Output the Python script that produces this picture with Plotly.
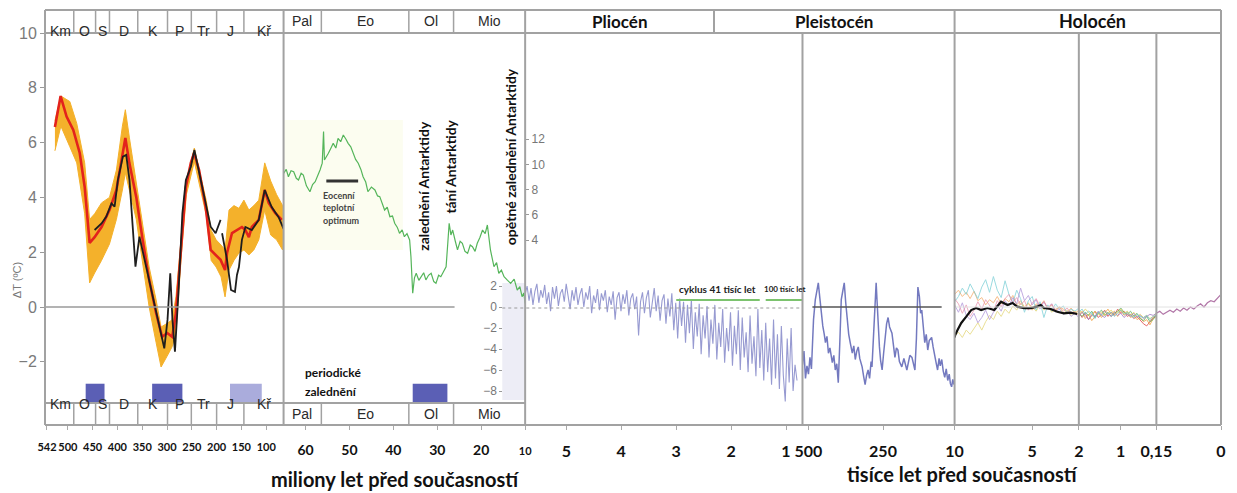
import numpy as np
import plotly.graph_objects as go

# ---------------- DATA ----------------
# Panel 1 – Phanerozoic (millions of years)
p1_periods = [542, 488, 444, 416, 359, 299, 251, 200, 145, 65]
p1_period_labels = ["Km", "O", "S", "D", "K", "P", "Tr", "J", "Kř"]
p1_ticks = [542, 500, 450, 400, 350, 300, 250, 200, 150, 100]

red_t = [526, 514.5, 502.5, 489, 476, 466, 456, 446, 432, 416, 402, 392, 384, 376, 362, 350, 336, 322, 310, 299.5,
         289.5, 282, 272, 262, 252, 245.4, 235.4, 222, 212, 202, 192, 183, 179, 169, 159, 149, 142, 135, 129, 115,
         103, 95, 82, 68.5]
red_v = [6.57, 7.70, 6.95, 6.46, 5.62, 4.38, 2.34, 2.55, 2.92, 3.54, 4.27, 5.26, 6.17, 5.26, 4.01, 2.55, 0.99, -0.22,
         -1.09, -0.95, -1.09, -0.22, 2.19, 4.38, 5.26, 5.62, 5.0, 3.65, 2.08, 1.90, 1.72, 1.35, 1.97, 2.70, 2.81, 2.92,
         2.81, 2.55, 2.92, 3.18, 4.27, 3.80, 3.43, 3.18]

black_t = [446, 432, 422.4, 412, 405.7, 399, 389, 382.3, 375.7, 369, 363.6, 355.6, 342, 329, 315.6, 305.5, 299, 293.5,
           289, 284, 277, 269, 262, 252, 244.8, 235.4, 222, 212, 202, 192, None, 189, 179, 171, 163, 159, 155, 149,
           142, 129, 115, 103, 89, 75, 65]
black_v = [2.81, 3.05, 3.3, 3.78, 3.66, 4.64, 5.49, 5.55, 4.64, 2.81, 1.47, 2.57, 1.47, 0.38, -0.6, -1.51, -0.47, 1.23,
           -0.47, -1.63, 0.5, 3.42, 4.64, 5.12, 5.73, 4.88, 3.78, 2.93, 2.69, 3.18, None, 2.69, 1.72, 0.62, 0.55, 1.17,
           1.46, 2.45, 2.92, 2.81, 3.18, 4.27, 3.65, 3.28, 2.85]

band_t = [526, 514, 496, 482, 466, 456, 446, 432, 416, 402, 390, 384, 376, 362, 350, 336, 322, 312, 300, 290,
          282, 271, 261, 245, 221, 211, 201, 191, 183, 175, 165, 155, 145, 135, 125, 115, 103, 91, 79, 67]
band_hi = [6.8, 7.7, 7.5, 6.7, 5.26, 3.2, 3.4, 3.8, 4.0, 5.0, 6.6, 7.2, 6.2, 4.6, 3.2, 1.46, 0.26, -0.73, -0.6, -0.47,
           0.37, 2.45, 4.6, 5.8, 3.9, 2.8, 2.45, 2.26, 2.08, 3.54, 3.7, 3.6, 3.9, 3.54, 3.7, 3.9, 5.26, 4.6, 4.1, 3.7]
band_lo = [5.7, 6.6, 5.85, 5.26, 3.4, 0.88, 1.24, 1.7, 2.3, 3.2, 4.27, 4.9, 4.27, 3.2, 1.7, 0.0, -1.3, -2.19, -1.8,
           -1.46, -0.95, 1.9, 4.1, 5.3, 3.36, 1.7, 1.46, 1.1, 0.37, 1.35, 1.7, 1.97, 2.08, 1.9, 2.08, 2.45, 3.54, 2.63,
           2.45, 2.08]

glaciations_p1 = [(464, 426, "#5b5fb5"), (330, 269, "#5b5fb5"), (173, 109, "#aaacdc")]
glaciation_p2 = (35.6, 27.7)

# Panel 2 – Cenozoic (millions of years), deep-ocean temperature
p2_labels = ["Pal", "Eo", "Ol", "Mio"]
p2_ticks = [60, 50, 40, 30, 20, 10]
green_t = [65, 64.4, 63.9, 63.3, 62.7, 62.1, 61.6, 61.0, 60.5, 59.8, 59.0, 58.4, 57.8, 57.2, 56.7, 56.2, 55.9, 55.7,
           55.2, 54.8, 54.2, 53.7, 53.1, 52.6, 52.0, 51.4, 50.8, 50.3, 49.7, 49.2, 48.6, 48.0, 47.4, 46.9, 46.3, 45.8,
           45.0, 44.2, 43.6, 43.1, 42.5, 42.0, 41.4, 40.8, 40.2, 39.7, 39.1, 38.6, 38.0, 37.5, 36.9, 36.3, 36.0, 35.6,
           35.2, 34.8, 34.2, 33.7, 33.1, 32.6, 32.0, 31.4, 30.8, 30.3, 29.7, 29.2, 28.6, 28.0, 27.6, 27.3, 26.9, 26.5,
           25.9, 25.4, 24.8, 24.3, 23.7, 23.1, 22.5, 22.0, 21.4, 20.9, 20.3, 19.7, 19.1, 18.6, 17.9, 17.5, 17.1, 16.5,
           16.0, 15.4, 14.8, 14.0, 13.3, 12.5, 11.8, 11.2, 10.7, 10.3, 10.0]
green_v = [9.29, 9.6, 9.02, 9.5, 9.42, 8.9, 8.76, 9.3, 9.16, 8.3, 7.83, 8.4, 8.63, 9.1, 9.56, 10.1, 12.6, 10.35,
           10.6, 10.88, 11.3, 11.67, 11.3, 12.07, 11.8, 12.33, 12.0, 11.67, 11.4, 11.0, 10.4, 10.09, 9.6, 9.02, 8.6, 7.83,
           8.2, 7.97, 7.5, 7.44, 6.9, 6.38, 6.6, 5.85, 5.9, 5.33, 5.0, 4.53, 4.8, 4.26, 4.5, 4.0, 2.67, -0.23,
           1.0, 1.36, 0.8, 1.09, 1.4, 0.83, 1.2, 1.36, 0.7, 0.56, 1.2, 1.09, 1.5, 1.88, 3.8, 5.33, 4.4, 4.79,
           3.9, 3.21, 3.9, 3.74, 3.1, 2.94, 3.6, 3.47, 3.1, 3.74, 4.2, 4.79, 4.5, 5.19, 3.21, 2.5, 1.88, 2.2,
           1.36, 1.6, 1.09, 0.8, 0.56, 0.9, 0.03, 0.3, -0.5, -0.2, -1.03]

# Panel 3 – Pliocene / early Pleistocene (millions of years)
p3_ticks = [5, 4, 3, 2, 1]
plio_start, plio_end = 5.75, 0.7
plio_v = [1.2, 2.0, 0.6, 1.8, 0.2, 1.5, 2.2, 0.4, 1.6, 0.9,
          2.1, 0.3, 1.4, -0.4, 1.9, 0.8, 2.0, 0.1, 1.3, 1.7,
          0.5, 2.2, 1.0, -0.2, 1.6, 0.6, 1.9, 0.2, 1.2, 1.8,
          0.0, 1.4, 0.7, 2.0, -0.6, 1.1, 0.4, 1.7, -0.3, 1.3,
          0.6, 1.6, -0.5, 1.0, 0.2, 1.5, -1.2, 0.9, 1.4, -0.4,
          1.2, 0.3, 1.6, -0.8, 0.8, 1.3, -0.2, 1.0, -2.7, 0.5,
          1.4, -0.6, 0.9, 1.6, -1.0, 0.7, 1.8, -0.4, 1.1, -1.3,
          0.6, 1.2, -1.6, 0.8, -0.9, 1.3, -2.2, 0.4, -3.0, 0.8,
          -1.8, 0.5, -3.4, 0.2, -2.5, 0.7, -4.0, -0.5, -2.8, 0.3,
          -4.5, -0.8, -3.0, 0.1, -4.8, -1.2, -3.5, 0.2, -5.0, -1.5,
          -3.8, -0.2, -5.3, -2.0, -4.2, -0.5, -5.6, -1.8, -4.5, -0.3,
          -6.0, -1.0, -4.8, -2.4, -6.2, -0.8, -5.4, -2.8, -6.6, -0.2,
          -5.8, -2.2, -7.0, -1.5, -6.2, -3.0, -7.4, -1.2, -6.8, -2.6,
          -7.8, -1.8, -6.5, -9.0, -3.0, -7.2, -2.0, -8.0, -5.5, -7.0]

# Panel 4 – late Pleistocene (thousands of years): (age, value)
p4_ticks = [500, 250]
pleist_points = [
    (520, -5.5), (515, -4.2), (510, -6.8), (505, -5.6), (500, -6.4), (495, -4.8), (490, -5.9), (487, -3.1),
    (483, -1.2), (477, 0.7), (472, 1.4), (467, 2.3), (462, 0.9), (457, -0.6), (452, -1.8), (447, -2.6),
    (443, -3.4), (438, -2.8), (433, -4.4), (428, -3.9), (423, -5.0), (420, -5.3), (415, -4.6), (410, -6.0),
    (405, -5.4), (400, -7.2), (395, -3.5), (390, 0.7), (385, 1.5), (380, 2.3), (375, 0.4), (370, -1.2),
    (365, -2.6), (360, -3.4), (353, -4.4), (348, -3.7), (343, -5.0), (338, -4.2), (333, -3.8), (328, -4.9),
    (320, -5.7), (315, -6.6), (310, -7.4), (305, -6.5), (300, -6.0), (295, -6.8), (290, -5.2), (287, -5.7),
    (282, -3.0), (277, 0.5), (273, 2.3), (270, 0.6), (267, -1.5), (262, -3.8), (258, -5.1), (253, -6.0),
    (248, -4.4), (243, -2.9), (238, -1.6), (233, -1.0), (228, -1.9), (220, -2.5), (215, -3.6), (210, -4.8),
    (205, -3.9), (200, -4.1), (195, -5.2), (187, -5.7), (180, -4.9), (170, -6.0), (165, -5.3), (160, -4.6),
    (153, -4.8), (148, -5.6), (143, -6.0), (138, -3.0), (133, 1.9), (128, 1.0), (124, -0.6), (120, -0.3),
    (115, -1.8), (110, -3.4), (105, -2.6), (100, -4.1), (95, -3.2), (87, -2.9), (82, -3.8), (77, -4.4),
    (72, -5.3), (67, -6.0), (62, -4.9), (58, -5.6), (53, -5.0), (48, -6.1), (43, -6.7), (38, -5.9),
    (33, -7.0), (28, -6.4), (24, -7.3), (20, -7.6), (16, -6.9), (12, -7.4)]

# Panel 5 – Holocene 10–2 kyr
p5_ticks = [10, 5, 2]
holo_black_t = [10.0, 9.96, 9.81, 9.57, 9.25, 8.93, 8.61, 8.29, 7.89, 7.44, 7.01, 6.59, 6.27, 5.97, 5.52, 5.09, 4.69,
                4.45, 4.24, 3.81, 3.39, 2.96, 2.53, 2.11]
holo_black_v = [-2.9, -2.67, -2.19, -1.52, -0.92, -0.29, -0.1, -0.29, -0.1, -0.29, 0.5, 0.19, 0.38, 0.03, -0.1, -0.1,
                0.03, 0.19, -0.1, -0.19, -0.45, -0.6, -0.54, -0.67]
holo_series = {
    "#f3a35a": [1.2, 1.6, 1.0, 1.4, 0.8, 1.5, 0.6, 0.9, 0.2, 0.7, 0.4, 1.0, 0.3, 0.8, 0.5, 1.1, 0.2, 0.6, 0.0, 0.4,
                -0.3, 0.3, 0.1, 0.6, -0.2, 0.2, -0.4, 0.0, -0.2, -0.5, -0.1, -0.6, -0.3],
    "#6fcbd3": [0.5, 1.0, 1.8, 1.2, 2.2, 1.5, 0.8, 1.9, 2.6, 1.4, 2.9, 1.6, 0.9, 2.5, 1.2, 0.4, 1.6, 0.8, -0.5, 0.6,
                1.0, -0.3, 0.5, -1.0, 0.2, -0.4, 0.3, -0.2, 0.1, -0.6, -0.2, -0.4, -0.1],
    "#e2d36a": [-2.8, -2.4, -2.9, -2.2, -2.6, -2.0, -1.5, -2.2, -1.4, -0.8, -1.2, -0.4, -0.9, -0.2, -0.6, 0.1, -0.3,
                0.4, -0.1, 0.3, 0.0, -0.4, 0.2, -0.3, 0.1, -0.5, -0.2, 0.0, -0.6, -0.3, -0.8, -0.4, -0.7],
    "#a88bd6": [0.2, -0.5, 0.4, -0.8, -1.2, -0.6, -1.5, -1.0, -0.3, -1.2, -0.5, 0.2, -0.4, 0.6, 0.1, 0.9, 0.3, 1.8,
                0.6, 1.1, 0.2, 0.7, -0.2, 0.5, -0.1, 0.3, -0.5, -0.2, -0.7, -0.4, -0.9, -0.6, -1.0],
    "#e88aa6": [0.8, 0.3, -0.6, 0.2, -0.9, -0.3, 0.5, -0.2, 0.7, 0.1, -0.4, 0.6, 0.0, 0.8, 1.2, 0.4, 0.9, 0.2, 0.6,
                -0.3, 0.4, 0.8, 0.1, 0.5, -0.2, 0.3, -0.3, 0.0, -0.4, -0.1, -0.6, -0.5, -0.8],
}

# Panel 6 – 2–0.15 kyr
p6_ticks = [1]
recent_series = {
    "#e04848": [-0.5, -1.0, -0.6, -1.2, -0.8, -0.4, -1.0, -0.7, -0.3, -0.9, -0.5, -0.8, -0.2, -0.6, -0.4, -0.9, -0.7,
                -1.1, -0.9, -1.3, -1.6, -1.8, -1.4, -1.0, -0.8],
    "#f0a040": [-0.8, -0.4, -1.1, -0.7, -1.3, -0.9, -0.5, -1.0, -0.6, -0.2, -0.7, -0.4, -0.9, -0.3, -0.8, -0.5, -1.0,
                -0.8, -1.2, -1.0, -1.4, -1.2, -1.7, -1.1, -0.9],
    "#5cae5c": [-0.6, -0.9, -0.5, -0.8, -0.4, -1.0, -0.6, -0.3, -0.8, -0.5, -0.9, -0.6, -0.4, -0.1, -0.5, -0.7, -0.4,
                -0.9, -0.6, -1.1, -1.3, -0.9, -1.4, -1.2, -0.7],
    "#e3cf55": [-0.3, -0.6, -0.2, -0.5, -0.9, -0.4, -0.7, -0.5, -0.8, -0.6, -0.3, -0.7, -0.5, -0.2, -0.6, -0.4, -0.8,
                -0.5, -0.9, -0.7, -1.0, -0.8, -1.1, -0.9, -0.6],
    "#a07cc8": [-0.9, -0.5, -0.8, -1.2, -0.7, -0.9, -0.4, -0.8, -1.0, -0.6, -0.9, -0.5, -0.8, -0.6, -1.0, -0.7, -0.9,
                -0.6, -1.0, -0.8, -1.1, -0.9, -0.7, -0.8, -0.6],
    "#73c7cf": [-0.5, -0.2, -0.7, -0.4, -0.6, -1.1, -0.5, -0.8, -0.4, -0.7, -0.5, -0.9, -0.6, -0.3, -0.7, -0.5, -0.8,
                -1.0, -0.7, -0.9, -1.0, -0.8, -1.2, -0.9, -0.8],
}

# Panel 7 – last 150 years
p7_ticks = [0.15, 0]
p7_ticktext = ["0,15", "0"]
modern_v = [-0.6, -0.4, -0.7, -0.5, -0.3, -0.5, -0.2, -0.4, -0.1, -0.3, 0.0, -0.2, 0.1, 0.3, 0.0, 0.4, 0.6, 0.5, 0.9,
            1.2]

# ---------------- LAYOUT HELPERS ----------------
W, H = 1237, 493
ML, MR, MT, MB = 45, 9, 10, 68
PW, PH = W - ML - MR, H - MT - MB


def px(x):
    return (x - ML) / PW


def py(y):
    return (H - MB - y) / PH


GRAY = "#a2a2a2"

fig = go.Figure()

# Panel 1 traces
fig.add_trace(go.Scatter(x=band_t + band_t[::-1], y=band_hi + band_lo[::-1], fill="toself",
                         fillcolor="#f4b12b", line=dict(color="#f4b12b", width=1), mode="lines",
                         xaxis="x", yaxis="y", hoverinfo="skip"))
fig.add_trace(go.Scatter(x=red_t, y=red_v, mode="lines", line=dict(color="#e3231c", width=2.6),
                         xaxis="x", yaxis="y"))
fig.add_trace(go.Scatter(x=black_t, y=black_v, mode="lines", line=dict(color="#1e1e1e", width=1.8),
                         xaxis="x", yaxis="y", connectgaps=False))
# Panel 2
fig.add_trace(go.Scatter(x=green_t, y=green_v, mode="lines", line=dict(color="#55b55a", width=1.2),
                         xaxis="x2", yaxis="y3"))
# Panel 3
plio_t = np.linspace(plio_start, 0.8, len(plio_v))
fig.add_trace(go.Scatter(x=plio_t, y=plio_v, mode="lines", line=dict(color="rgba(95,100,185,0.65)", width=1.1),
                         xaxis="x3", yaxis="y2"))
# Panel 4
pleist_t = [p[0] for p in pleist_points]
pleist_v = [p[1] for p in pleist_points]
fig.add_trace(go.Scatter(x=pleist_t, y=pleist_v, mode="lines", line=dict(color="rgba(80,88,175,0.8)", width=1.5),
                         xaxis="x4", yaxis="y2"))
# Panel 5
holo_t = np.linspace(10, 2, 33)
for c, vals in holo_series.items():
    fig.add_trace(go.Scatter(x=holo_t, y=vals, mode="lines", line=dict(color=c, width=1), opacity=0.7,
                             xaxis="x5", yaxis="y2"))
fig.add_trace(go.Scatter(x=holo_black_t, y=holo_black_v, mode="lines", line=dict(color="#111", width=2.2),
                         xaxis="x5", yaxis="y2"))
# Panel 6
rec_t = np.linspace(2, 0.15, 25)
for c, vals in recent_series.items():
    fig.add_trace(go.Scatter(x=rec_t, y=vals, mode="lines", line=dict(color=c, width=1), opacity=0.8,
                             xaxis="x6", yaxis="y2"))
# Panel 7
mod_t = np.linspace(0.15, 0, len(modern_v))
fig.add_trace(go.Scatter(x=mod_t, y=modern_v, mode="lines", line=dict(color="#b277a8", width=1.2),
                         xaxis="x7", yaxis="y2"))

shapes = []
annos = []


def line(x0, y0, x1, y1, color=GRAY, width=2, dash=None):
    shapes.append(dict(type="line", xref="paper", yref="paper", x0=px(x0), x1=px(x1), y0=py(y0), y1=py(y1),
                       line=dict(color=color, width=width, dash=dash), layer="above"))


def rect(x0, y0, x1, y1, fill, layer="below"):
    shapes.append(dict(type="rect", xref="paper", yref="paper", x0=px(x0), x1=px(x1), y0=py(y0), y1=py(y1),
                       fillcolor=fill, line=dict(width=0), layer=layer))


def text(x, y, s, size=12, color="#111", bold=False, family="Lato", angle=0, xanchor="center"):
    annos.append(dict(xref="paper", yref="paper", x=px(x), y=py(y), text=s, showarrow=False, textangle=angle,
                      xanchor=xanchor, yanchor="middle",
                      font=dict(size=size, color=color, family=family, weight="bold" if bold else "normal")))


# background decorations
rect(285, 120, 405, 250, "#fcfdf0")
rect(505, 283, 528, 400, "#ededf6")

# glaciation boxes (data coordinates)
for t0, t1, col in glaciations_p1:
    shapes.append(dict(type="rect", xref="x", yref="y", x0=t0, x1=t1, y0=-3.5, y1=-2.8, fillcolor=col,
                       line=dict(width=0)))
shapes.append(dict(type="rect", xref="x2", yref="y", x0=glaciation_p2[0], x1=glaciation_p2[1], y0=-3.5, y1=-2.8,
                   fillcolor="#5b5fb5", line=dict(width=0)))

# zero lines
line(45, 307, 457, 307, color="#9a9a9a", width=1.5)
line(505, 308, 807, 308, color="#9a9a9a", width=1.2, dash="dot")
line(817, 307, 947, 307, color="#555", width=1.6)
line(960, 307, 1228, 307, color="#e2e2e2", width=1)

# green cycle bars
line(680, 300, 764, 300, color="#7cc36e", width=2)
line(770, 300, 807, 300, color="#7cc36e", width=2)
text(722, 289, "cyklus 41 tisíc let", size=10, bold=True, color="#222")
text(789, 289, "100 tisíc let", size=8, bold=True, color="#222")

# Eocene optimum bar
line(328, 181, 360, 181, color="#333", width=3)
text(323, 195, "Eocenní", size=9, bold=True, color="#444", xanchor="left")
text(323, 207, "teplotní", size=9, bold=True, color="#444", xanchor="left")
text(323, 220, "optimum", size=9, bold=True, color="#444", xanchor="left")

text(425, 186, "zalednění Antarktidy", size=14, bold=True, angle=-90)
text(452, 167, "tání Antarktidy", size=14, bold=True, angle=-90)
text(513, 157, "opětné zalednění Antarktidy", size=14, bold=True, angle=-90)
text(305, 372, "periodické", size=12, bold=True, xanchor="left")
text(305, 391, "zalednění", size=12, bold=True, xanchor="left")

# frame
line(45, 10, 1228, 10)
line(45, 425, 1228, 425)
line(45, 10, 45, 425)
line(1228, 10, 1228, 425)
line(45, 33, 1228, 33)
line(45, 403, 528, 403)
for x in [285, 528, 960]:
    line(x, 10, x, 425)
for x in [807, 1085, 1163]:
    line(x, 33, x, 425)
line(718, 10, 718, 33)

# Panel 1 header / footer in data coordinates
for b in p1_periods[1:-1]:
    for (y0, y1) in [(10, 33), (403, 425)]:
        shapes.append(dict(type="line", xref="x", yref="paper", x0=b, x1=b, y0=py(y0), y1=py(y1),
                           line=dict(color=GRAY, width=1.5)))
for i, lab in enumerate(p1_period_labels):
    mid = (p1_periods[i] + p1_periods[i + 1]) / 2
    for yy in [21.5, 414]:
        annos.append(dict(xref="x", yref="paper", x=mid, y=py(yy), text=lab, showarrow=False,
                          font=dict(size=14, color="#2a2a2a", family="Liberation Sans")))

# Panel 2 header / footer
p2_edges = [285, 323, 411, 456, 528]
for b in p2_edges[1:-1]:
    line(b, 10, b, 33, width=1.5)
    line(b, 403, b, 425, width=1.5)
for i, lab in enumerate(p2_labels):
    mid = (p2_edges[i] + p2_edges[i + 1]) / 2
    text(mid, 21.5, lab, size=14, color="#2a2a2a", family="Liberation Sans")
    text(mid, 414, lab, size=14, color="#2a2a2a", family="Liberation Sans")

text(623, 21.5, "Pliocén", size=17, bold=True, family="Lato")
text(839, 21.5, "Pleistocén", size=17, bold=True, family="Lato")
text(1099, 21.5, "Holocén", size=18, bold=True, family="Lato")

# axis titles
text(17, 280, "ΔT (ºC)", size=11, color="#777", family="Liberation Sans", angle=-90)
text(397, 479, "miliony let před současností", size=20, bold=True, family="Lato")
text(968, 474, "tisíce let před současností", size=20, bold=True, family="Lato")

tickfont_small = dict(family="Lato", size=11, color="#111", weight="bold")
tickfont_big = dict(family="Lato", size=16, color="#111", weight="bold")
common_x = dict(showgrid=False, zeroline=False, showline=False, ticks="outside", ticklen=4, tickcolor="#aaa",
                anchor="y", fixedrange=True, ticklabelstandoff=8, tickangle=0)

layout = dict(
    width=W, height=H, margin=dict(l=ML, r=MR, t=MT, b=MB),
    paper_bgcolor="white", plot_bgcolor="white", showlegend=False,
    xaxis=dict(domain=[0, px(285)], range=[546, 65], tickvals=p1_ticks, tickfont=tickfont_small, **common_x),
    xaxis2=dict(domain=[px(285), px(528)], range=[65, 10], tickvals=p2_ticks,
                ticktext=[str(v) for v in p2_ticks[:-1]] + ["<span style='font-size:11px'>10</span>"],
                tickfont=dict(family="Lato", size=14, color="#111", weight="bold"), **common_x),
    xaxis3=dict(domain=[px(528), px(807)], range=[plio_start, plio_end], tickvals=p3_ticks, tickfont=tickfont_big,
                **common_x),
    xaxis4=dict(domain=[px(807), px(960)], range=[520, 10], tickvals=p4_ticks, tickfont=tickfont_big, **common_x),
    xaxis5=dict(domain=[px(960), px(1085)], range=[10, 2], tickvals=p5_ticks, tickfont=tickfont_big, **common_x),
    xaxis6=dict(domain=[px(1085), px(1163)], range=[2, 0.15], tickvals=p6_ticks, tickfont=tickfont_big, **common_x),
    xaxis7=dict(domain=[px(1163), 1], range=[0.15, 0], tickvals=p7_ticks, ticktext=p7_ticktext,
                tickfont=tickfont_big, **common_x),
    yaxis=dict(domain=[0, 1], range=[(307 - 425) / 27.4, (307 - 10) / 27.4], tickvals=[-2, 0, 2, 4, 6, 8, 10],
               showgrid=False, zeroline=False, showline=False, ticks="outside", ticklen=4, tickcolor="#999",
               tickfont=dict(family="Liberation Sans", size=16, color="#7a7a7a"), anchor="x", fixedrange=True),
    yaxis2=dict(overlaying="y", range=[(307 - 425) / 10.5, (307 - 10) / 10.5], tickvals=[-8, -6, -4, -2, 0, 2],
                anchor="free", position=px(505), side="left", showgrid=False, zeroline=False, showline=False,
                ticks="outside", ticklen=3, tickcolor="#999",
                tickfont=dict(family="Liberation Sans", size=12, color="#777"), fixedrange=True),
    yaxis3=dict(overlaying="y", range=[4 - 185 / 12.6, 4 + 230 / 12.6], tickvals=[4, 6, 8, 10, 12],
                anchor="free", position=px(528), side="right", showgrid=False, zeroline=False, showline=False,
                ticks="outside", ticklen=3, tickcolor="#999",
                tickfont=dict(family="Liberation Sans", size=12, color="#777"), fixedrange=True),
    shapes=shapes, annotations=annos,
)
fig.update_layout(**layout)
fig.write_html("out.html")
